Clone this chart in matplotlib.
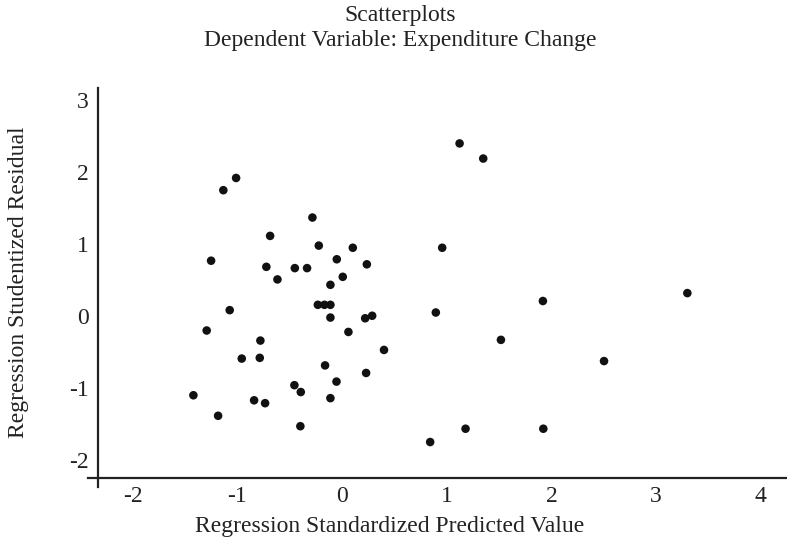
import matplotlib.pyplot as plt

# Regression standardized predicted value (x) and studentized residual (y)
pred = [-1.135, -1.013, -1.252, -0.688, -0.284, -0.223, 0.102, -0.051, 0.236,
        -0.724, -0.452, -0.335, -0.618, 0.006, -0.112, -0.232, -0.169, -0.112,
        -1.074,
        -0.112, 0.220, 0.287, -1.294, 0.060, -0.781, 0.400, -0.959, -0.787,
        -0.163, 0.229, -0.054, -0.456, -0.395, -1.421, -0.112, -0.841, -0.736,
        -1.185, -0.399,
        1.122, 1.348, 0.956, 3.298, 1.918, 0.895, 1.517, 2.502, 1.179, 1.922,
        0.841]
resid = [1.75, 1.92, 0.77, 1.115, 1.37, 0.98, 0.95, 0.79, 0.72,
         0.685, 0.667, 0.667, 0.51, 0.546, 0.435, 0.157, 0.157, 0.157,
         0.083,
         -0.02, -0.03, 0.005, -0.20, -0.22, -0.34, -0.47, -0.59, -0.58,
         -0.685, -0.79, -0.91, -0.96, -1.055, -1.10, -1.14, -1.17, -1.21,
         -1.385, -1.53,
         2.40, 2.19, 0.95, 0.32, 0.21, 0.05, -0.33, -0.625, -1.565, -1.565,
         -1.75]

x_ticks = [-2, -1, 0, 1, 2, 3, 4]
y_ticks = [-2, -1, 0, 1, 2, 3]

plt.rcParams['font.family'] = ['Liberation Serif', 'DejaVu Serif']
fs = 17
ink = '#222222'

fig = plt.figure(figsize=(7.87, 5.41), dpi=100)
ax = fig.add_axes([0.1118, 0.0998, 0.8882, 0.7375])

ax.scatter(pred, resid, s=38, color='#111111', edgecolors='none', zorder=3)

ax.set_xlim(-2.428, 4.25)
ax.set_ylim(-2.375, 3.17)

for side in ['top', 'right']:
    ax.spines[side].set_visible(False)
ax.spines['left'].set_position(('data', -2.33))
ax.spines['bottom'].set_position(('data', -2.25))
for side in ['left', 'bottom']:
    ax.spines[side].set_linewidth(1.6)
    ax.spines[side].set_color(ink)

ax.set_xticks(x_ticks)
ax.set_yticks(y_ticks)
ax.set_xticklabels([str(v) for v in x_ticks])
ax.set_yticklabels([str(v) for v in y_ticks])
ax.tick_params(axis='both', length=0, labelsize=fs, labelcolor=ink)
ax.tick_params(axis='x', pad=6)
ax.tick_params(axis='y', pad=7)

ax.set_xlabel('Regression Standardized Predicted Value', fontsize=fs,
              color=ink, va='center')
ax.xaxis.set_label_coords(0.432, -0.100)
ax.set_ylabel('Regression Studentized Residual', fontsize=fs,
              color=ink, va='center')
ax.yaxis.set_label_coords(-0.100, 0.514)

fig.text(0.508, 0.972, 'Scatterplots', ha='center', va='center',
         fontsize=fs, color=ink)
fig.text(0.508, 0.926, 'Dependent Variable: Expenditure Change', ha='center',
         va='center', fontsize=fs, color=ink)

fig.savefig('out.png', dpi=100)
